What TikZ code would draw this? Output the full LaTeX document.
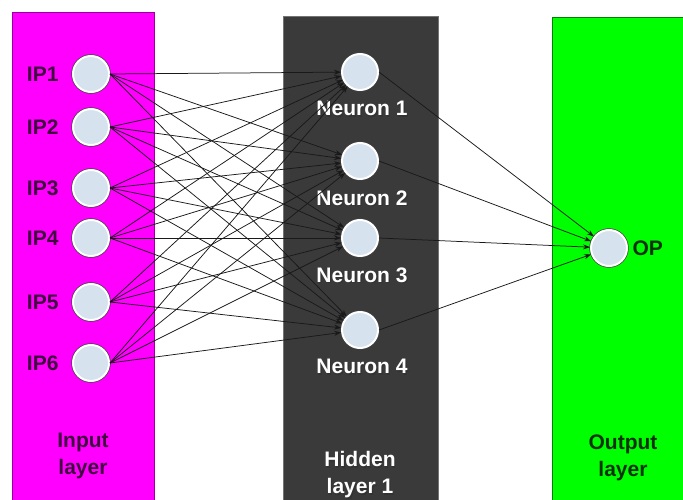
\documentclass[tikz,border=0pt]{standalone}
\usepackage{fontspec}
\setmainfont{Liberation Sans}
\usetikzlibrary{arrows.meta,shadows}
\definecolor{magbg}{RGB}{255,0,255}
\definecolor{hidbg}{RGB}{58,58,58}
\definecolor{outbg}{RGB}{0,255,0}
\definecolor{nodefill}{RGB}{214,226,238}
\definecolor{inlab}{RGB}{64,10,64}
\definecolor{outlab}{RGB}{10,50,10}
\tikzset{
  neuron/.style={circle, minimum size=36pt, inner sep=0pt, fill=nodefill, draw=white, line width=2pt,
     preaction={draw=black!75, line width=3.4pt}},
  lab/.style={font=\fontsize{21}{27}\selectfont\bfseries, align=center},
  conn/.style={black!90, line width=0.75pt, -{Stealth[length=7pt,width=5pt]}},
}
\begin{document}
\begin{tikzpicture}[x=1pt,y=-1pt]
\useasboundingbox (0,0) rectangle (683,500);
\clip (0,0) rectangle (683,500);
\fill[white] (0,0) rectangle (683,500);
% layer boxes
\draw[fill=magbg, draw=magbg!60!black, line width=0.8pt] (12,12) rectangle (154,505);
\draw[fill=hidbg, draw=black!55, line width=1pt] (283,17) rectangle (438,505);
\draw[fill=outbg, draw=outbg!50!black, line width=0.8pt] (552,17) rectangle (690,505);
% input nodes
\foreach \i/\y in {1/74,2/127,3/188,4/238,5/302,6/363}{
  \node[neuron] (ip\i) at (91,\y) {};
  \node[lab, text=inlab, anchor=east] (ipl\i) at (62,\y) {IP\i};
}
% hidden nodes
\foreach \j/\y in {1/72,2/161,3/238,4/330}{
  \node[neuron] (n\j) at (360,\y) {};
  \node[lab, text=black!80, anchor=north] (ns\j) at (363.2,\y+27.2) {Neuron \j};
  \node[lab, text=white, anchor=north] (nl\j) at (362,\y+26) {Neuron \j};
}
% output node
\node[neuron] (op) at (609,248) {};
\node[lab, text=outlab, anchor=west] (opl) at (629,248) {OP};
% layer titles
\node[lab, text=inlab] (tin) at (83,456) {Input\\layer};
\node[lab, text=black!80] (thids) at (361.2,476.2) {Hidden\\layer 1};
\node[lab, text=white] (thid) at (360,475) {Hidden\\layer 1};
\node[lab, text=outlab] (tout) at (623,458) {Output\\layer};
% connections
\foreach \i in {1,...,6}{
  \foreach \j in {1,...,4}{
    \draw[conn] (ip\i.east) -- (n\j);
  }
}
\foreach \j in {1,...,4}{
  \draw[conn] (n\j.east) -- (op);
}
\end{tikzpicture}
\end{document}
